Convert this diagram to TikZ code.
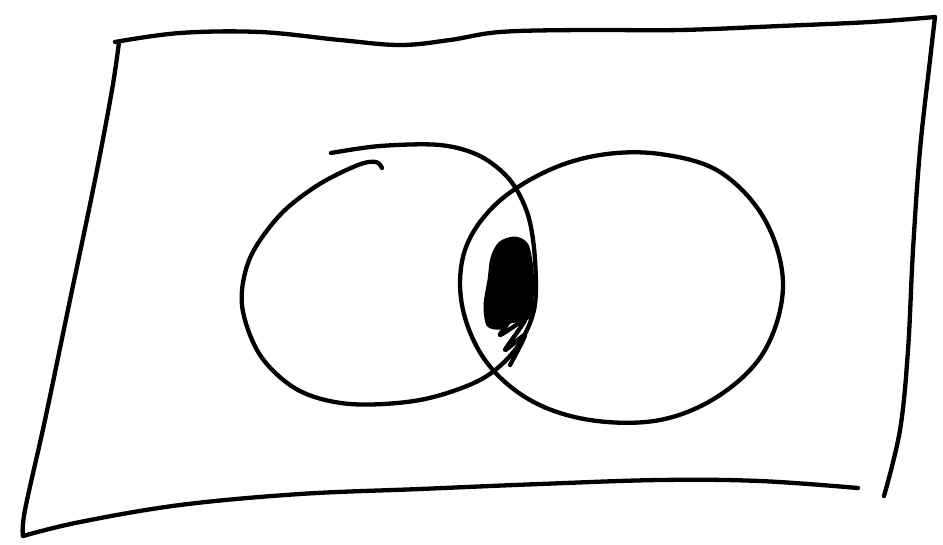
\documentclass[tikz,border=0pt]{standalone}
\begin{document}
\begin{tikzpicture}[x=1pt,y=-1pt,
  ink/.style={line width=4.3pt,line cap=round,line join=round,black},
  blot/.style={fill=black,draw=black,line width=3pt,line join=round}]
\useasboundingbox (0,0) rectangle (943,544);
% frame
\draw[ink] plot[smooth,tension=0.6] coordinates {(115,42) (180,33) (260,32) (340,40) (400,45) (450,40) (500,32) (580,30) (680,30) (780,26) (870,22) (935,17)};
\draw[ink] plot[smooth,tension=0.6] coordinates {(119,42) (112,90) (95,180) (70,300) (45,420) (25,510) (23,536)};
\draw[ink] plot[smooth,tension=0.6] coordinates {(23,536) (80,522) (180,505) (300,494) (420,489) (540,484) (660,480) (760,481) (858,488)};
\draw[ink] plot[smooth,tension=0.6] coordinates {(935,17) (930,60) (920,150) (913,250) (908,350) (900,430) (884,496)};
% left circle
\draw[ink] plot[smooth,tension=0.55] coordinates {(331,153) (380,146) (440,145) (480,156) (510,180) (528,215) (535,260) (534,310) (515,350) (480,380) (420,400) (350,404) (298,390) (260,355) (242,305) (250,258) (280,215) (318,185) (358,165) (376,162) (382,168)};
% right circle
\draw[ink] plot[smooth cycle,tension=0.6] coordinates {(660,154) (720,172) (765,220) (783,285) (765,350) (720,395) (660,420) (590,420) (530,400) (485,360) (462,305) (465,250) (495,205) (545,172) (600,155)};
% shaded intersection
\draw[blot] plot[smooth cycle,tension=0.5] coordinates {(500,243) (515,238) (527,245) (532,270) (532,300) (528,318) (510,322) (500,328) (488,325) (485,305) (489,280) (492,258)};
\draw[ink] plot[smooth,tension=0.4] coordinates {(490,320) (515,312) (500,335) (525,320) (505,350) (525,335) (510,365)};
\end{tikzpicture}
\end{document}
